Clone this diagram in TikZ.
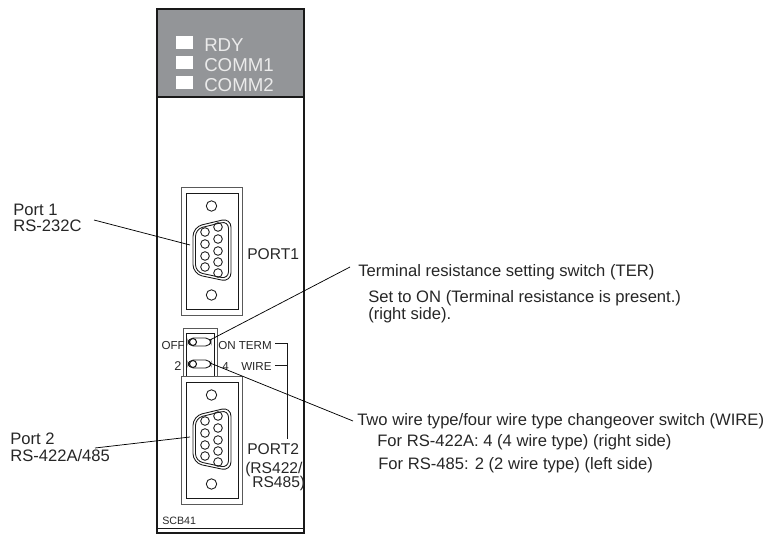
\documentclass[tikz,border=0pt]{standalone}
\usepackage{fontspec}
\setmainfont{Liberation Sans}
\usepackage{xcolor}
\definecolor{panelgray}{HTML}{939598}
\begin{document}
\begin{tikzpicture}[
    x=0.75pt, y=-0.75pt,
    callout/.style={anchor=base west, inner sep=0pt, font=\fontsize{12.45pt}{14pt}\selectfont, text=black!85},
    plate/.style={anchor=base west, inner sep=0pt, font=\fontsize{14pt}{16pt}\selectfont, text=white!92!black},
    silk/.style={anchor=base west, inner sep=0pt, font=\fontsize{11.7pt}{14pt}\selectfont, text=black!85},
    tiny/.style={anchor=base west, inner sep=0pt, font=\fontsize{8.7pt}{10pt}\selectfont, text=black!85},
    led/.style={fill=white, draw=none},
    leader/.style={draw=black, line width=0.55pt},
    rim/.style={draw=black!65, line width=0.6pt},
    edge/.style={draw=black!90, line width=0.65pt}
]
\useasboundingbox (0,0) rectangle (768,535);

% module body
\fill[panelgray] (157,9) rectangle (304,97);
\draw[black!90, line width=1.1pt] (157,97) -- (157,9) -- (304,9) -- (304,533) -- (157,533) -- cycle;
\draw[black!90, line width=0.8pt] (157,97) -- (304,97);
\draw[edge] (157,528) -- (304,528);

% indicators
\fill[led] (176,36) rectangle (193,49);
\fill[led] (176,56) rectangle (193,69);
\fill[led] (176,76) rectangle (193,89);
\node[plate] (rdy) at (204,52) {RDY};
\node[plate] (commone) at (204,72) {COMM1};
\node[plate] (commtwo) at (204,92) {COMM2};

% the two connectors
\foreach \py in {0,189}{
  \begin{scope}[shift={(0,\py)}]
    \draw[rim] (181,187) rectangle (242,315);
    \draw[edge] (186,193) rectangle (238,309);
    \draw[edge] (211.5,206) circle (5.2);
    \draw[edge] (211.5,295) circle (5.2);
    \draw[edge, rounded corners=7pt] (193,227) -- (231,218) -- (231,282) -- (193,274) -- cycle;
    \draw[edge, rounded corners=5.5pt] (195.5,229) -- (228.5,221) -- (228.5,279) -- (195.5,272) -- cycle;
    \foreach \pa in {232,244,256,267}{\draw[edge] (205,\pa) circle (4.3);}
    \foreach \pb in {227,239,251,262,273}{\draw[edge] (218,\pb) circle (4.3);}
  \end{scope}
}
\node[silk] (portone) at (247,259) {PORT1};
\node[silk] (porttwo) at (247,454) {PORT2};
\node[silk] (rsboth) at (245,473) {(RS422/};
\node[silk] (rsfour) at (252,487) {RS485)};
\node[tiny, font=\fontsize{8pt}{10pt}\selectfont] (model) at (162,524) {SCB41};

% switches
\draw[rim] (183,376) -- (183,328) -- (217,328) -- (217,376);
\draw[edge] (186,376) -- (186,333) -- (214,333) -- (214,376);
\draw[edge, rounded corners=4pt] (188,338) rectangle (211,346);
\draw[edge, rounded corners=4pt] (188,360) rectangle (211,368);
\draw[edge, line width=0.8pt] (193,342) circle (3.5);
\draw[edge, line width=0.8pt] (193,364) circle (3.5);
\node[tiny, anchor=base east] (off) at (185,349) {OFF};
\node[tiny] (onterm) at (218,349) {ON TERM};
\node[tiny, font=\fontsize{9.5pt}{10pt}\selectfont] (two) at (174,370) {2};
\node[tiny] (four) at (222,370) {4};
\node[tiny] (wire) at (241,370) {WIRE};
\coordinate (termhook) at (287,343);
\coordinate (wirehook) at (287,365);
\coordinate (bracketend) at (287,439);
\draw[edge] (onterm.base east |- termhook) ++(3,0) -- (termhook) -- (bracketend);
\draw[edge] (wire.base east |- wirehook) ++(3,0) -- (wirehook);

% callout texts
\node[callout] (portonea) at (13,215) {Port 1};
\node[callout] (portoneb) at (13,231) {RS-232C};
\node[callout] (porttwoa) at (10,444) {Port 2};
\node[callout] (porttwob) at (10,461) {RS-422A/485};
\node[callout] (ter) at (358,276) {Terminal resistance setting switch (TER)};
\node[callout] (tera) at (368,302) {Set to ON (Terminal resistance is present.)};
\node[callout] (terb) at (368,319) {(right side).};
\node[callout] (sw) at (357,425) {Two wire type/four wire type changeover switch (WIRE)};
\node[callout] (swa) at (377,446) {For RS-422A: 4 (4 wire type) (right side)};
\node[callout] (swb) at (378,469) {For RS-485: 2 (2 wire type) (left side)};

% leaders
\coordinate (onetip) at (190,245);
\coordinate (twotip) at (190,437);
\coordinate (tertip) at (210,340);
\coordinate (swtip) at (210,363);
\coordinate (terstart) at (350,267);
\coordinate (swstart) at (353,421);
\coordinate (onestart) at (94,220);
\coordinate (twostart) at (95,448);
\draw[leader] (onestart) -- (onetip);
\draw[leader] (twostart) -- (twotip);
\draw[leader] (terstart) -- (tertip);
\draw[leader] (swstart) -- (swtip);
\end{tikzpicture}
\end{document}
